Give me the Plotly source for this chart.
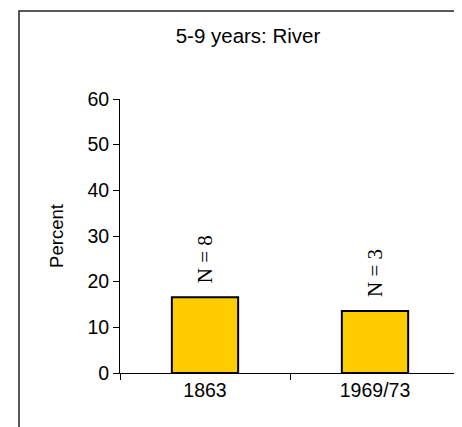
import plotly.graph_objects as go

categories = ["1863", "1969/73"]
percent = [16.6, 13.6]
n_labels = ["N = 8", "N = 3"]
title_text = "5-9 years: River"
y_title = "Percent"

fig = go.Figure()
fig.add_trace(go.Bar(
    x=categories, y=percent, width=0.39,
    marker=dict(color="#FFCC00", line=dict(color="black", width=2)),
))

for i, (v, t) in enumerate(zip(percent, n_labels)):
    fig.add_annotation(x=i, y=v, text=t, showarrow=False, textangle=-90,
                       xanchor="center", yanchor="bottom", yshift=12,
                       font=dict(family="Liberation Serif", size=21, color="black"))

L, R, T, B = 112, 10, 91, 62
W, H = 462, 427
pw = W - L - R
ph = H - T - B
x_left = (11 - L) / pw
y_top = (H - B - 3) / ph
fig.add_shape(type="path", xref="paper", yref="paper",
              path=f"M {x_left} -1 L {x_left} {y_top} L 2 {y_top}",
              line=dict(color="#222222", width=1.5))

fig.update_layout(
    width=W, height=H, margin=dict(l=L, r=R, t=T, b=B),
    paper_bgcolor="white", plot_bgcolor="white",
    font=dict(family="Liberation Sans", size=19.5, color="black"),
    title=dict(text=title_text, x=(240 - L) / pw, xref="paper", xanchor="center",
               y=1 - 28 / H, yanchor="middle", font=dict(size=20.5)),
    showlegend=False,
    xaxis=dict(type="category", range=[-0.5, 1.5], tickson="boundaries",
               ticks="outside", ticklen=6, tickcolor="black", showline=True,
               linecolor="black", linewidth=1, showgrid=False,
               tickfont=dict(size=19.5)),
    yaxis=dict(range=[0, 60], dtick=10, ticks="outside", ticklen=6,
               tickcolor="black", showline=True, linecolor="black", linewidth=1,
               showgrid=False, zeroline=False, tickfont=dict(size=19.5),
               title=dict(text=y_title, standoff=18, font=dict(size=18.5))),
)
fig.write_html("out.html")
